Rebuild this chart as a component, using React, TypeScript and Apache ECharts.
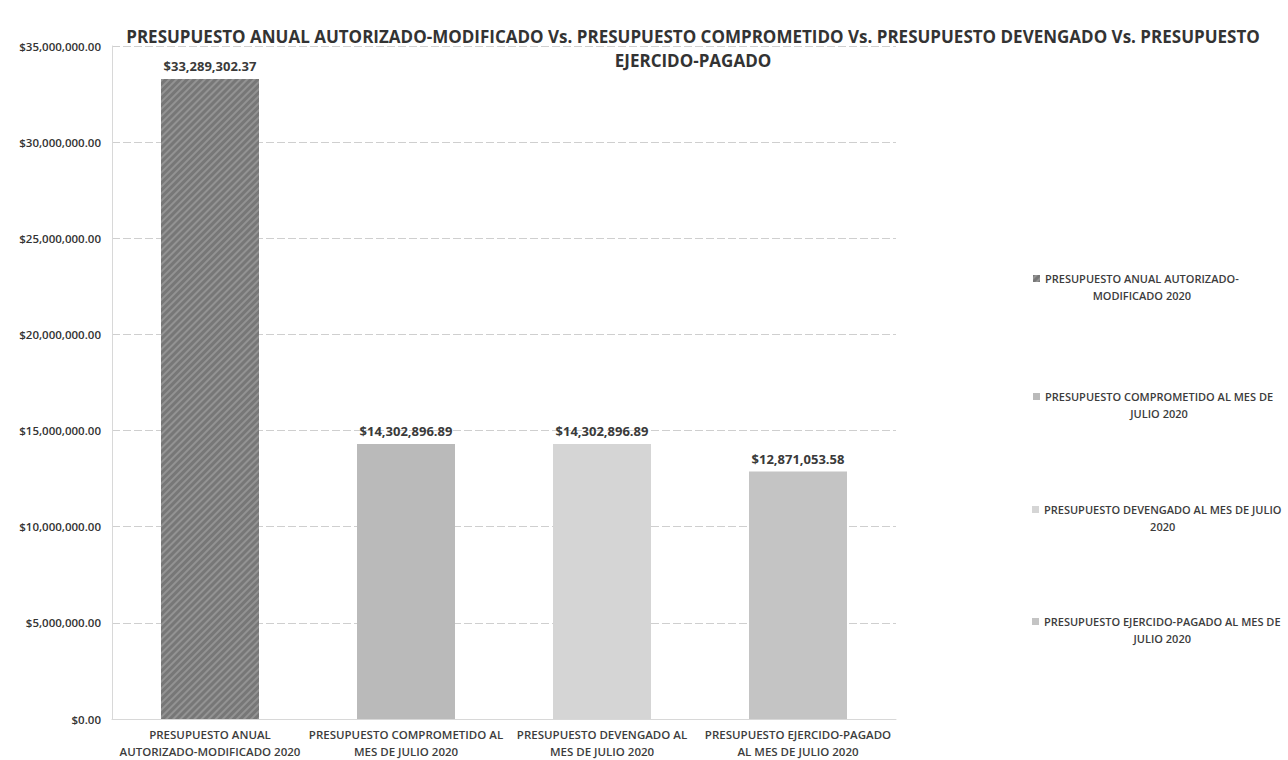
import React, { useEffect, useRef } from "react";
import * as echarts from "echarts";

const categories = [
  "PRESUPUESTO ANUAL AUTORIZADO-MODIFICADO 2020",
  "PRESUPUESTO COMPROMETIDO AL MES DE JULIO 2020",
  "PRESUPUESTO DEVENGADO AL MES DE JULIO 2020",
  "PRESUPUESTO EJERCIDO-PAGADO AL MES DE JULIO 2020",
];
const axisLabelLines = [
  ["PRESUPUESTO ANUAL", "AUTORIZADO-MODIFICADO 2020"],
  ["PRESUPUESTO COMPROMETIDO AL", "MES DE JULIO 2020"],
  ["PRESUPUESTO DEVENGADO AL", "MES DE JULIO 2020"],
  ["PRESUPUESTO EJERCIDO-PAGADO", "AL MES DE JULIO 2020"],
];
const legendLines = [
  ["PRESUPUESTO ANUAL AUTORIZADO-", "MODIFICADO 2020"],
  ["PRESUPUESTO COMPROMETIDO AL MES DE", "JULIO 2020"],
  ["PRESUPUESTO DEVENGADO AL MES DE JULIO", "2020"],
  ["PRESUPUESTO EJERCIDO-PAGADO AL MES DE", "JULIO 2020"],
];
const values = [33289302.37, 14302896.89, 14302896.89, 12871053.58];
const colors = ["#777777", "#bababa", "#d5d5d5", "#c4c4c4"];
const legendTops = [265, 383, 496, 608];
const legendLefts = [1028, 1028, 1027, 1027];

const titleText =
  "PRESUPUESTO ANUAL AUTORIZADO-MODIFICADO Vs. PRESUPUESTO COMPROMETIDO Vs. PRESUPUESTO DEVENGADO Vs. PRESUPUESTO\nEJERCIDO-PAGADO";

const FONT = "'Open Sans', sans-serif";

const money = (v: number) =>
  "$" + v.toLocaleString("en-US", { minimumFractionDigits: 2, maximumFractionDigits: 2 });

// legend icon: a small square level with the first text line of a two-line block
const legendIcon = "path://M0,5h7v7h-7z M0,0h0.05v0.05h-0.05z M6.95,34h0.05v0.05h-0.05z";

export default function App() {
  const ref = useRef<HTMLDivElement>(null);
  useEffect(() => {
    if (!ref.current) return;
    const chart = echarts.init(ref.current, null, { renderer: "svg" });
    const series = categories.map((name, i) => ({
      name,
      type: "bar",
      stack: "all",
      barWidth: "50%",
      data: values.map((v, j) => (j === i ? v : "-")),
      itemStyle:
        i === 0
          ? {
              color: colors[i],
              decal: {
                symbol: "rect",
                dashArrayX: [1, 0],
                dashArrayY: [2, 3],
                rotation: -Math.PI / 4,
                color: "rgba(165,165,165,0.6)",
              },
            }
          : { color: colors[i] },
      label: {
        show: true,
        position: "top",
        distance: 6,
        formatter: (p: any) => money(p.value),
        fontFamily: FONT,
        fontWeight: "bold",
        fontSize: 13,
        color: "#3a3a3a",
      },
    }));
    const legends = categories.map((name, i) => ({
      data: [name],
      left: legendLefts[i],
      top: legendTops[i],
      orient: "vertical",
      itemWidth: 7,
      itemHeight: 34,
      icon: legendIcon,
      selectedMode: false,
      formatter: () => `{a|${legendLines[i][0]}}\n{a|${legendLines[i][1]}}`,
      textStyle: {
        rich: {
          a: {
            align: "center",
            fontFamily: FONT,
            fontWeight: 600,
            fontSize: 11,
            lineHeight: 17,
            color: "#3c3c3c",
          },
        },
      },
    }));
    chart.setOption({
      animation: false,
      backgroundColor: "#ffffff",
      title: {
        text: titleText,
        left: 688,
        top: 19,
        textAlign: "center",
        textStyle: {
          fontFamily: FONT,
          fontSize: 17,
          fontWeight: "bold",
          lineHeight: 24,
          color: "#333333",
        },
      },
      legend: legends,
      grid: { left: 112, right: 392, top: 46, bottom: 41, containLabel: false },
      xAxis: {
        type: "category",
        data: categories,
        axisTick: { show: false },
        axisLine: { show: true, lineStyle: { color: "#d8d8d8" } },
        axisLabel: {
          interval: 0,
          margin: 7,
          formatter: (_v: string, idx: number) => axisLabelLines[idx].join("\n"),
          fontFamily: FONT,
          fontWeight: 600,
          fontSize: 11.5,
          lineHeight: 17,
          color: "#3c3c3c",
        },
      },
      yAxis: {
        type: "value",
        min: 0,
        max: 35000000,
        interval: 5000000,
        axisLine: { show: true, lineStyle: { color: "#d8d8d8" } },
        axisTick: { show: false },
        splitLine: { lineStyle: { color: "#cfcfcf", type: [8, 3] } },
        axisLabel: {
          formatter: (v: number) => money(v),
          fontFamily: FONT,
          fontWeight: 600,
          fontSize: 11.5,
          margin: 11,
          color: "#333333",
        },
      },
      series,
    });
    return () => chart.dispose();
  }, []);
  return (
    <div
      ref={ref}
      style={{ position: "fixed", left: 0, top: 0, width: 1288, height: 760 }}
    />
  );
}
